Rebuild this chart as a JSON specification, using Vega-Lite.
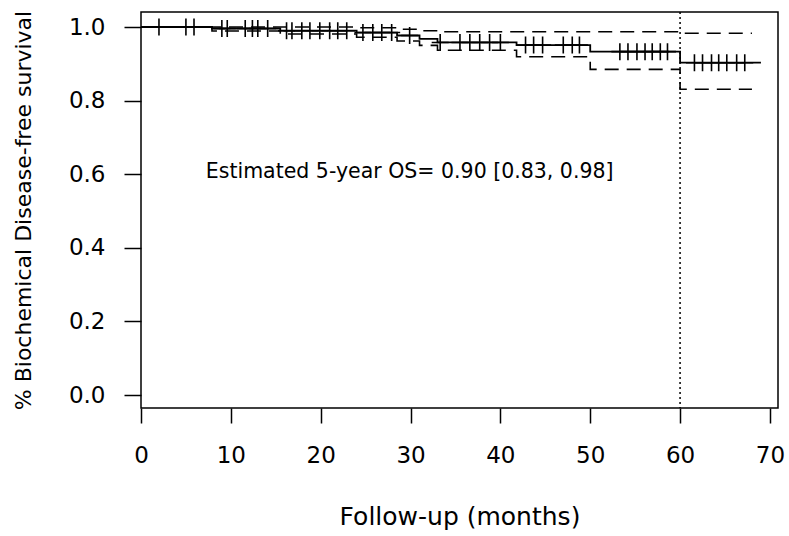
{
  "$schema": "https://vega.github.io/schema/vega-lite/v6.json",
  "width": 637,
  "height": 396,
  "autosize": "none",
  "padding": {"left": 141, "top": 12, "right": 11, "bottom": 128},
  "background": "white",
  "config": {
    "view": {"stroke": "black", "strokeWidth": 1.5},
    "axis": {"grid": false, "domain": false, "labelFlush": false, "tickColor": "black", "tickWidth": 1.5, "labelColor": "black", "titleColor": "black", "labelFont": "DejaVu Sans", "titleFont": "DejaVu Sans", "titleFontWeight": "normal"}
  },
  "datasets": {
    "km": [
      {"t": 0, "s": 1.0, "k": "est"}, {"t": 7.9, "s": 0.996, "k": "est"}, {"t": 15.5, "s": 0.990, "k": "est"}, {"t": 24, "s": 0.985, "k": "est"}, {"t": 28.5, "s": 0.977, "k": "est"}, {"t": 31, "s": 0.968, "k": "est"}, {"t": 33, "s": 0.958, "k": "est"}, {"t": 41.8, "s": 0.951, "k": "est"}, {"t": 50, "s": 0.933, "k": "est"}, {"t": 60, "s": 0.903, "k": "est"}, {"t": 69, "s": 0.903, "k": "est"},
      {"t": 0, "s": 1.0, "k": "upper"}, {"t": 24, "s": 0.998, "k": "upper"}, {"t": 28.5, "s": 0.994, "k": "upper"}, {"t": 31, "s": 0.990, "k": "upper"}, {"t": 33, "s": 0.987, "k": "upper"}, {"t": 60, "s": 0.983, "k": "upper"}, {"t": 68, "s": 0.983, "k": "upper"},
      {"t": 0, "s": 1.0, "k": "lower"}, {"t": 7.9, "s": 0.989, "k": "lower"}, {"t": 15.5, "s": 0.981, "k": "lower"}, {"t": 24, "s": 0.972, "k": "lower"}, {"t": 28.5, "s": 0.962, "k": "lower"}, {"t": 31, "s": 0.950, "k": "lower"}, {"t": 33, "s": 0.937, "k": "lower"}, {"t": 41.8, "s": 0.919, "k": "lower"}, {"t": 50, "s": 0.885, "k": "lower"}, {"t": 60, "s": 0.831, "k": "lower"}, {"t": 68, "s": 0.831, "k": "lower"}
    ],
    "cens": [
      {"t": 2.0, "s": 1.0}, {"t": 5.0, "s": 1.0}, {"t": 5.9, "s": 1.0},
      {"t": 9.0, "s": 0.996}, {"t": 9.6, "s": 0.996}, {"t": 11.6, "s": 0.996}, {"t": 12.4, "s": 0.996}, {"t": 13.0, "s": 0.996}, {"t": 14.1, "s": 0.996},
      {"t": 16.2, "s": 0.990}, {"t": 16.8, "s": 0.990}, {"t": 17.9, "s": 0.990}, {"t": 18.8, "s": 0.990}, {"t": 19.9, "s": 0.990}, {"t": 21.0, "s": 0.990}, {"t": 21.9, "s": 0.990}, {"t": 22.9, "s": 0.990},
      {"t": 24.7, "s": 0.985}, {"t": 25.8, "s": 0.985}, {"t": 26.8, "s": 0.985}, {"t": 27.9, "s": 0.985},
      {"t": 29.9, "s": 0.977},
      {"t": 33.3, "s": 0.958}, {"t": 35.5, "s": 0.958}, {"t": 36.6, "s": 0.958}, {"t": 37.7, "s": 0.958}, {"t": 38.8, "s": 0.958}, {"t": 40.0, "s": 0.958},
      {"t": 42.8, "s": 0.951}, {"t": 43.7, "s": 0.951}, {"t": 44.7, "s": 0.951}, {"t": 47.0, "s": 0.951}, {"t": 48.0, "s": 0.951}, {"t": 48.8, "s": 0.951},
      {"t": 53.3, "s": 0.933}, {"t": 54.2, "s": 0.933}, {"t": 55.2, "s": 0.933}, {"t": 56.1, "s": 0.933}, {"t": 56.9, "s": 0.933}, {"t": 57.8, "s": 0.933}, {"t": 58.6, "s": 0.933},
      {"t": 61.6, "s": 0.903}, {"t": 62.5, "s": 0.903}, {"t": 63.5, "s": 0.903}, {"t": 64.3, "s": 0.903}, {"t": 65.2, "s": 0.903}, {"t": 66.3, "s": 0.903}, {"t": 67.2, "s": 0.903}
    ],
    "ann": [{"t": 29.9, "s": 0.606, "label": "Estimated 5-year OS= 0.90 [0.83, 0.98]"}],
    "ref": [{"t": 60}]
  },
  "layer": [
    {
      "data": {"name": "ref"},
      "mark": {"type": "rule", "color": "black", "strokeWidth": 1.5, "strokeDash": [2, 3]},
      "encoding": {"x": {"field": "t", "type": "quantitative", "scale": {"domain": [0, 70.9], "nice": false, "zero": false}}}
    },
    {
      "data": {"name": "km"},
      "transform": [{"filter": "datum.k != 'est'"}],
      "mark": {"type": "line", "interpolate": "step-after", "color": "black", "strokeWidth": 1.6, "strokeDash": [14, 8]},
      "encoding": {
        "x": {"field": "t", "type": "quantitative"},
        "y": {"field": "s", "type": "quantitative"},
        "detail": {"field": "k"}
      }
    },
    {
      "data": {"name": "km"},
      "transform": [{"filter": "datum.k == 'est'"}],
      "mark": {"type": "line", "interpolate": "step-after", "color": "black", "strokeWidth": 1.8},
      "encoding": {
        "x": {"field": "t", "type": "quantitative",
          "axis": {"values": [0, 10, 20, 30, 40, 50, 60, 70], "tickSize": 15, "labelPadding": 21, "labelFontSize": 23, "title": "Follow-up (months)", "titleFontSize": 25, "titlePadding": 37}},
        "y": {"field": "s", "type": "quantitative",
          "scale": {"domain": [-0.0353, 1.0408], "nice": false, "zero": false},
          "axis": {"values": [0, 0.2, 0.4, 0.6, 0.8, 1.0], "format": ".1f", "tickSize": 17, "labelPadding": 19, "labelFontSize": 23, "title": "% Biochemical Disease-free survival", "titleFontSize": 22, "titlePadding": 33}}
      }
    },
    {
      "data": {"name": "cens"},
      "mark": {"type": "point", "shape": "M-1,0H1M0,-1V1", "filled": false, "color": "black", "strokeWidth": 1.6, "size": 289, "opacity": 1},
      "encoding": {
        "x": {"field": "t", "type": "quantitative"},
        "y": {"field": "s", "type": "quantitative"}
      }
    },
    {
      "data": {"name": "ann"},
      "mark": {"type": "text", "font": "DejaVu Sans", "fontSize": 20.5, "color": "black", "align": "center", "baseline": "middle"},
      "encoding": {
        "x": {"field": "t", "type": "quantitative"},
        "y": {"field": "s", "type": "quantitative"},
        "text": {"field": "label"}
      }
    }
  ]
}
